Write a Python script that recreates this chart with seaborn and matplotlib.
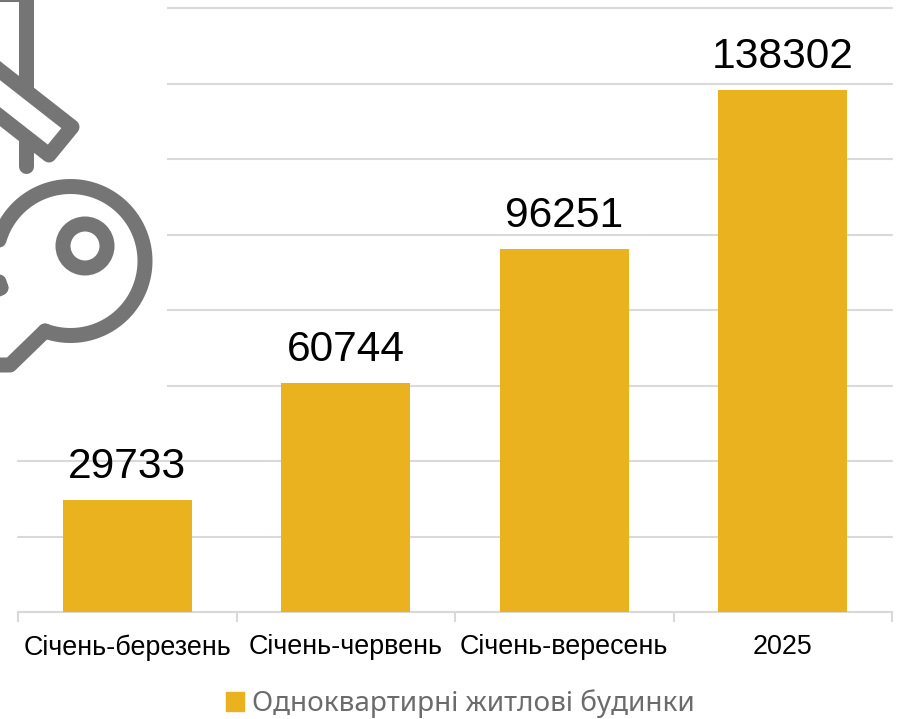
import numpy as np
import pandas as pd
import matplotlib
matplotlib.use('Agg')
import matplotlib.pyplot as plt
from matplotlib.patches import Rectangle, Polygon, Circle
from matplotlib.ticker import FixedLocator, NullFormatter, MultipleLocator
import seaborn as sns

# Data
periods = ['Січень-березень', 'Січень-червень', 'Січень-вересень', '2025']
houses = [29733, 60744, 96251, 138302]
series_name = 'Одноквартирні житлові будинки'

BAR_COLOR = '#EBB21F'
GRID_COLOR = '#D9D9D9'
ICON_COLOR = '#757575'
W, H = 901, 719

sns.set_theme(style='white')
plt.rcParams['font.family'] = ['Liberation Sans', 'DejaVu Sans']

df = pd.DataFrame({'period': periods, 'value': houses, 'series': series_name})

fig = plt.figure(figsize=(W / 100, H / 100), dpi=100, facecolor='white')
ax = fig.add_axes([18 / W, 1 - 612 / H, (892 - 18) / W, (612 - 8) / H])

sns.barplot(data=df, x='period', y='value', hue='series', palette=[BAR_COLOR],
            width=0.59, saturation=1, legend=True, linewidth=0, ax=ax, zorder=3)

ax.set_xlim(-0.5, 3.5)
ax.set_ylim(0, 160000)
ax.set_xlabel('')
ax.set_ylabel('')
ax.yaxis.set_major_locator(MultipleLocator(20000))
ax.set_yticklabels([])
ax.grid(axis='y', color=GRID_COLOR, lw=1.5, zorder=0, clip_on=False)
ax.set_axisbelow(True)
sns.despine(ax=ax, left=True)
ax.spines['bottom'].set_color(GRID_COLOR)
ax.spines['bottom'].set_linewidth(1.5)

# ticks sit between the categories
ax.xaxis.set_minor_locator(FixedLocator([-0.5, 0.5, 1.5, 2.5, 3.5]))
ax.xaxis.set_minor_formatter(NullFormatter())
ax.tick_params(axis='x', which='minor', bottom=True, length=7.5, width=1.5, color=GRID_COLOR)
ax.tick_params(axis='x', which='major', bottom=False, labelsize=19.4, labelcolor='black', pad=10)
ax.tick_params(axis='y', left=False)

for container in ax.containers:
    ax.bar_label(container, fmt='%d', fontsize=30.6, color='black', padding=9)

# legend
ax.get_legend().remove()
handle = Rectangle((0, 0), 1, 1, color=BAR_COLOR)
fig.legend([handle], [series_name], loc='center', bbox_to_anchor=(460.5 / W, 1 - 704 / H),
           frameon=False, handlelength=0.645, handleheight=0.645, handletextpad=0.29,
           prop={'family': 'Noto Sans', 'size': 20.1}, labelcolor='#6B6B6B')

# decorative key icon on top, in pixel coordinates
ov = fig.add_axes([0, 0, 1, 1], zorder=5)
ov.set_xlim(0, W)
ov.set_ylim(H, 0)
ov.axis('off')
ov.patch.set_alpha(0)
ov.add_patch(Rectangle((0, -2), 167, 422, fc='white', ec='none', zorder=0))

lw = 15 * 0.72
icon = dict(color=ICON_COLOR, lw=lw, solid_capstyle='round', solid_joinstyle='round')
ov.plot([26, 26], [-5, 166], zorder=1, **icon)
ov.plot([-5, 22], [1, 1], color=ICON_COLOR, lw=1.5, zorder=1)
ov.add_patch(Polygon([[-20, 55], [72, 127], [49, 155], [-43, 83]], closed=True, fc='white',
                     ec=ICON_COLOR, lw=lw, joinstyle='round', zorder=2))

t = np.radians(np.linspace(110, -201, 200))
arc_x = 70.5 + 74.5 * np.cos(t)
arc_y = 261 + 74.5 * np.sin(t)
ov.plot(arc_x, arc_y, zorder=3, **icon)
ov.plot([arc_x[0], 10, -5], [arc_y[0], 365, 365], zorder=3, **icon)
ov.plot([arc_x[-1], -12], [arc_y[-1], 296], zorder=3, **icon)
ov.add_patch(Circle((85, 246), 22, fc='none', ec=ICON_COLOR, lw=lw, zorder=3))

fig.savefig('out.png', dpi=100)
